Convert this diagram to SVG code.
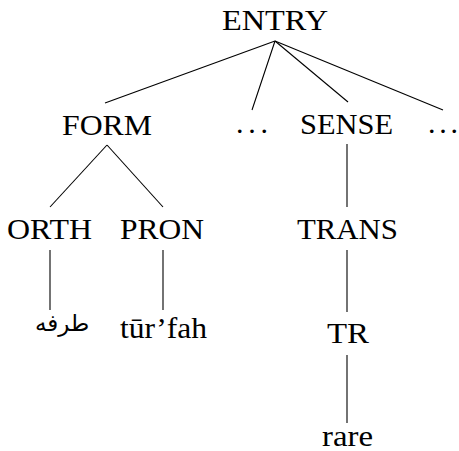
<svg xmlns="http://www.w3.org/2000/svg" width="459" height="451" viewBox="0 0 459 451">
<style>
.lbl{fill:#000}
#connectors line{stroke:#000;stroke-width:1.1}
</style>
<rect width="459" height="451" fill="#fff"/>
<g id="connectors">
<line x1="275" y1="41" x2="105" y2="103"/>
<line x1="275" y1="41" x2="252" y2="110"/>
<line x1="275" y1="41" x2="348" y2="102"/>
<line x1="275" y1="41" x2="443" y2="110"/>
<line x1="107" y1="145" x2="50" y2="207"/>
<line x1="107" y1="145" x2="163" y2="207"/>
<line x1="50" y1="250" x2="50" y2="310"/>
<line x1="163" y1="250" x2="163" y2="310"/>
<line x1="347" y1="144" x2="347" y2="207"/>
<line x1="347" y1="250" x2="347" y2="312"/>
<line x1="347" y1="355" x2="347" y2="423"/>
</g>
<g id="entry"><text class="lbl" x="222" y="30" font-size="30" font-family="'Liberation Serif', serif" textLength="106" lengthAdjust="spacingAndGlyphs">ENTRY</text></g>
<g id="form"><text class="lbl" x="62" y="135" font-size="30" font-family="'Liberation Serif', serif" textLength="90" lengthAdjust="spacingAndGlyphs">FORM</text></g>
<g id="dots1"><text class="lbl" x="236" y="133" font-size="30" font-family="'Liberation Serif', serif" textLength="32" lengthAdjust="spacing">. . .</text></g>
<g id="sense"><text class="lbl" x="300" y="134" font-size="30" font-family="'Liberation Serif', serif" textLength="93" lengthAdjust="spacingAndGlyphs">SENSE</text></g>
<g id="dots2"><text class="lbl" x="428" y="133" font-size="30" font-family="'Liberation Serif', serif" textLength="30" lengthAdjust="spacing">. . .</text></g>
<g id="orth"><text class="lbl" x="7" y="239" font-size="30" font-family="'Liberation Serif', serif" textLength="85" lengthAdjust="spacingAndGlyphs">ORTH</text></g>
<g id="pron"><text class="lbl" x="120" y="239" font-size="30" font-family="'Liberation Serif', serif" textLength="84" lengthAdjust="spacingAndGlyphs">PRON</text></g>
<g id="trans"><text class="lbl" x="297" y="239" font-size="30" font-family="'Liberation Serif', serif" textLength="101" lengthAdjust="spacingAndGlyphs">TRANS</text></g>
<g id="turfah"><text class="lbl" x="120" y="338" font-size="30" font-family="'Liberation Serif', serif" textLength="87" lengthAdjust="spacingAndGlyphs">t&#363;r&#8217;fah</text></g>
<g id="tr"><text class="lbl" x="327" y="343" font-size="30" font-family="'Liberation Serif', serif" textLength="42" lengthAdjust="spacingAndGlyphs">TR</text></g>
<g id="rare"><text class="lbl" x="322" y="446" font-size="30" font-family="'Liberation Serif', serif" textLength="51" lengthAdjust="spacingAndGlyphs">rare</text></g>
<g id="arabic"><text class="lbl" x="35" y="331" font-size="23" font-family="'DejaVu Sans', sans-serif">&#1591;&#1585;&#1601;&#1607;</text></g>
</svg>
